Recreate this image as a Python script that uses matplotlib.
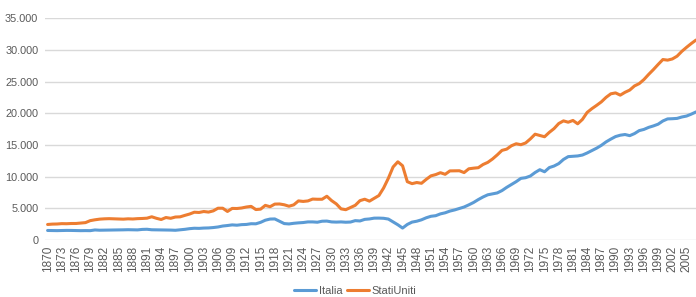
import matplotlib
matplotlib.use("Agg")
import matplotlib.pyplot as plt
import numpy as np
from matplotlib.ticker import FuncFormatter

years = list(range(1870, 2008))

italia = [
    1499, 1490, 1475, 1500, 1510, 1505, 1480, 1470, 1480, 1470,   # 1870-1879
    1581, 1540, 1550, 1560, 1570, 1580, 1600, 1620, 1600, 1590,   # 1880-1889
    1667, 1690, 1610, 1600, 1590, 1580, 1560, 1530, 1600, 1680,   # 1890-1899
    1785, 1850, 1830, 1880, 1900, 1960, 2050, 2200, 2280, 2380,   # 1900-1909
    2330, 2420, 2450, 2564, 2550, 2780, 3120, 3300, 3320, 2950,   # 1910-1919
    2587, 2528, 2631, 2700, 2750, 2850, 2850, 2800, 2960, 2980,   # 1920-1929
    2850, 2820, 2850, 2800, 2830, 3050, 3000, 3250, 3316, 3444,   # 1930-1939
    3450, 3420, 3300, 2850, 2400, 1880, 2448, 2819, 2960, 3181,   # 1940-1949
    3502, 3738, 3830, 4117, 4289, 4559, 4739, 4975, 5200, 5542,   # 1950-1959
    5916, 6373, 6782, 7126, 7280, 7420, 7790, 8300, 8760, 9200,   # 1960-1969
    9719, 9825, 10091, 10643, 11087, 10760, 11419, 11665, 12051, 12704,  # 1970-1979
    13149, 13201, 13257, 13399, 13725, 14104, 14484, 14929, 15474, 15912,  # 1980-1989
    16313, 16528, 16638, 16457, 16783, 17253, 17443, 17764, 17994, 18268,  # 1990-1999
    18774, 19100, 19130, 19180, 19400, 19550, 19850, 20200,              # 2000-2007
]

stati_uniti = [
    2445, 2503, 2520, 2577, 2563, 2599, 2602, 2672, 2738, 3050,   # 1870-1879
    3184, 3287, 3335, 3361, 3331, 3287, 3285, 3338, 3310, 3365,   # 1880-1889
    3392, 3438, 3660, 3418, 3230, 3543, 3420, 3620, 3650, 3880,   # 1890-1899
    4091, 4380, 4340, 4490, 4400, 4590, 5010, 5010, 4500, 4980,   # 1900-1909
    4964, 5046, 5201, 5301, 4799, 4864, 5459, 5248, 5659, 5680,   # 1910-1919
    5552, 5323, 5540, 6164, 6080, 6160, 6454, 6423, 6425, 6899,   # 1920-1929
    6213, 5691, 4908, 4777, 5114, 5467, 6204, 6430, 6126, 6561,   # 1930-1939
    7010, 8206, 9741, 11518, 12333, 11709, 9197, 8886, 9065, 8944,  # 1940-1949
    9561, 10116, 10316, 10613, 10359, 10897, 10914, 10920, 10631, 11230,  # 1950-1959
    11328, 11402, 11905, 12242, 12773, 13419, 14134, 14330, 14863, 15179,  # 1960-1969
    15030, 15304, 15944, 16689, 16491, 16284, 16975, 17567, 18373, 18789,  # 1970-1979
    18577, 18856, 18325, 19020, 20123, 20717, 21236, 21788, 22499, 23059,  # 1980-1989
    23201, 22849, 23298, 23650, 24302, 24666, 25312, 26126, 26882, 27694,  # 1990-1999
    28467, 28371, 28558, 28996, 29752, 30392, 30990, 31540,              # 2000-2007
]

tick_years = list(range(1870, 2006, 3))

plt.rcParams['font.family'] = ['Liberation Sans', 'DejaVu Sans']

fig = plt.figure(figsize=(6.96, 2.97), dpi=100)
ax = fig.add_axes([0.065, 0.192, 0.935, 0.747])

ax.plot(years, italia, color='#5B9BD5', lw=2.2, label='Italia', solid_capstyle='round')
ax.plot(years, stati_uniti, color='#ED7D31', lw=2.2, label='StatiUniti', solid_capstyle='round')

ax.set_ylim(0, 35000)
ax.set_xlim(1869.5, 2007.0)
ax.set_yticks(range(0, 35001, 5000))
ax.yaxis.set_major_formatter(FuncFormatter(lambda v, p: f"{int(v):,}".replace(",", ".")))
ax.set_xticks(tick_years)
ax.set_xticklabels([str(y) for y in tick_years], rotation=90)

ax.grid(axis='y', color='#D9D9D9', lw=1.0)
ax.set_axisbelow(True)
for s in ax.spines.values():
    s.set_visible(False)
ax.tick_params(axis='both', length=0, colors='#595959')
ax.tick_params(axis='y', labelsize=7.8, pad=5)
ax.tick_params(axis='x', labelsize=8.5, pad=4)

fig.legend(loc='lower center', bbox_to_anchor=(0.51, -0.03), ncol=2, frameon=False,
           fontsize=8, handlelength=2.0, handletextpad=0.2, columnspacing=0.4,
           labelcolor='#595959')

fig.savefig('out.png', dpi=100)
